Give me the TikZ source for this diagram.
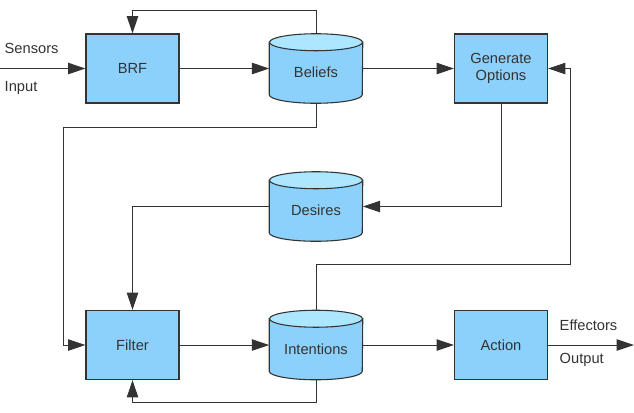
\documentclass[tikz,border=0pt]{standalone}
\usepackage{fontspec}
\setmainfont{Liberation Sans}
\usetikzlibrary{arrows.meta}
\usetikzlibrary{calc}
\usetikzlibrary{positioning}
\definecolor{boxblue}{RGB}{140,208,252}
\definecolor{topblue}{RGB}{172,230,255}

\begin{document}
\begin{tikzpicture}[x=0.75pt,y=-0.75pt,>={Triangle[length=13pt,width=8.5pt]},
    every node/.style={font=\fontsize{11}{13}\selectfont,text=black!80},
    block/.style={draw=black!80,fill=boxblue,line width=0.8pt,minimum width=69.75pt,minimum height=51.75pt,inner sep=0pt,align=center},
    store/.style={minimum width=69.75pt,minimum height=51.75pt,inner sep=0pt},
    cylbody/.style={draw=black!80,fill=boxblue,line width=0.8pt},
    cyltop/.style={draw=black!80,fill=topblue,line width=0.8pt},
    link/.style={draw=black!80,line width=0.75pt}]
    % We start by placing the blocks
\useasboundingbox (0,0) rectangle (634,412);

\node[block] (brf) at (132.5,68.5) {BRF};
\node[block] (gen) at (501,68.5) {Generate\\Options};
\node[block] (flt) at (132.5,345) {Filter};
\node[block] (act) at (501,345) {Action};

% the three stores
\foreach \n/\y/\t in {bel/68.5/Beliefs,des/206.5/Desires,int/345/Intentions}
{
    \node[store] (\n) at (316,\y) {};
    \filldraw[cylbody] ($(\n.north west)+(0,8.5)$) -- ($(\n.south west)+(0,-8.5)$) arc (180:0:46.5 and 8.5) -- ($(\n.north east)+(0,8.5)$) -- cycle;
    \filldraw[cyltop] ($(\n.north)+(0,8.5)$) ellipse (46.5 and 8.5);
    \node at ($(\n)+(0,4)$) {\t};
}

\node[anchor=west] (sen) at (0,48) {Sensors};
\node[anchor=west] (inp) at (0,88) {Input};
\node[anchor=west] (eff) at (555,325) {Effectors};
\node[anchor=west] (outp) at (555,360) {Output};

\coordinate (in) at (0,68.5);
\coordinate (out) at (634,345);

% connectors
\draw[link,->] (in) -- (brf.west);
\draw[link,->] (brf.east) -- (bel.west);
\draw[link,->] (bel.east) -- (gen.west);
\draw[link,->] (bel.north) -- ++(0,-23) -| (brf.north);
\draw[link,->] (bel.south) |- (63,127) |- (flt.west);
\draw[link,->] (gen.south) |- (des.east);
\draw[link,->] (des.west) -| (flt.north);
\draw[link,->] (int.north) |- (570,264) |- (gen.east);
\draw[link,->] (flt.east) -- (int.west);
\draw[link,->] (int.east) -- (act.west);
\draw[link,->] (int.south) -- ++(0,23) -| (flt.south);
\draw[link,->] (act.east) -- (out);

\end{tikzpicture}
\end{document}
